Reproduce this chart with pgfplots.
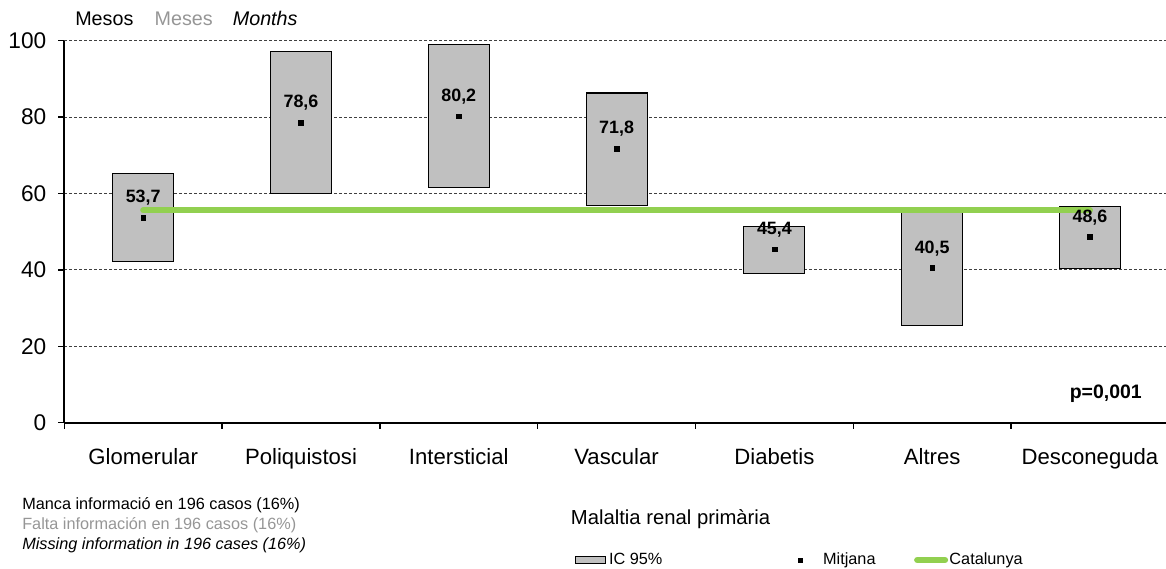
\documentclass[border=0pt]{standalone}
\usepackage{pgfplots}
\usepackage{pgfplotstable}
\pgfplotsset{compat=1.18}
\usepackage{fontspec}
\setmainfont{Liberation Sans}
\definecolor{boxgray}{HTML}{C0C0C0}
\definecolor{catgreen}{HTML}{92D050}
\definecolor{txtgray}{HTML}{969696}
\definecolor{gridc}{HTML}{404040}

\pgfplotstableread{
x low high mean lab
0 42.2 65.3 53.7 53,7
1 60.1 97.2 78.6 78,6
2 61.5 99.0 80.2 80,2
3 56.8 86.3 71.8 71,8
4 39.1 51.4 45.4 45,4
5 25.4 55.4 40.5 40,5
6 40.3 56.7 48.6 48,6
}\datatable

\pgfplotsset{
  commonaxis/.style={
    at={(48.225pt,108.975pt)}, anchor=south west,
    scale only axis, width=826.3pt, height=286.5pt,
    xmin=-0.5, xmax=6.482, ymin=0, ymax=100,
    enlargelimits=false,
  }
}

\begin{document}
\begin{tikzpicture}
\useasboundingbox (0pt,0pt) rectangle (874.5pt,426pt);

\begin{axis}[
  commonaxis,
  ybar stacked, bar width=45.75pt,
  axis x line*=bottom, axis y line*=left,
  axis line style={line width=1.4pt, black},
  tick align=outside,
  major tick length=4.5pt, minor tick length=4.5pt,
  ytick={0,20,...,100},
  ymajorgrids,
  grid style={gridc, line width=0.7pt, dash pattern=on 2.25pt off 1.5pt},
  xtick={0,...,6},
  xticklabels={Glomerular,Poliquistosi,Intersticial,Vascular,Diabetis,Altres,Desconeguda},
  minor xtick={-0.5,0.5,...,5.5},
  every major x tick/.append style={draw=none},
  every minor x tick/.append style={black, line width=1pt},
  every major y tick/.append style={black, line width=1pt},
  /pgf/number format/assume math mode=true,
  yticklabel style={font=\fontsize{17}{19}\selectfont, xshift=-5.5pt},
  xticklabel style={font=\fontsize{16.6}{19}\selectfont, yshift=-11pt},
  xlabel={Malaltia renal primària},
  xlabel style={at={(axis description cs:0.5503,-0.252)}, anchor=center, font=\fontsize{15.2}{18}\selectfont},
]
\addplot[draw=none, fill=none] table[x=x, y=low] {\datatable};
\addplot[fill=boxgray, draw=black, line width=0.8pt] table[x=x, y expr=\thisrow{high}-\thisrow{low}] {\datatable};
\end{axis}

\begin{axis}[
  commonaxis,
  hide axis, clip=false,
  legend columns=3,
  legend style={draw=none, fill=none, inner sep=0pt, outer sep=0pt, column sep=0pt,
    nodes={inner sep=0pt},
    at={(axis description cs:0.4636,-0.3594)}, anchor=west,
    font=\fontsize{12.2}{14}\selectfont},
  legend cell align=left,
]
\addlegendimage{legend image code/.code={\draw[fill=boxgray, draw=black, line width=0.8pt] (0pt,-2.4pt) rectangle (22.5pt,2.4pt);}}
\addlegendentry{\makebox[138.75pt][l]{\hspace{2.25pt}IC 95\%}}
\addlegendimage{legend image code/.code={\path[draw=none, fill=none] (0pt,0pt) rectangle (21pt,0pt); \fill[black] (5.35pt,-1.4pt) rectangle (8.15pt,1.4pt);}}
\addlegendentry{\makebox[71.25pt][l]{\hspace{3pt}Mitjana}}
\addlegendimage{legend image code/.code={\path[draw=none, fill=none] (0pt,0pt) rectangle (25.5pt,0pt); \draw[catgreen, line width=4.5pt, line cap=round] (2.25pt,0pt) -- (23.25pt,0pt);}}
\addlegendentry{\hspace{1pt}Catalunya}

\addplot[forget plot, catgreen, line width=4.5pt, line cap=round, mark=none] coordinates {(0,55.6) (6,55.6)};
\addplot[forget plot, only marks, mark=square*, mark size=1.8pt, black,
  nodes near coords, point meta=explicit symbolic,
  nodes near coords style={font=\bfseries\fontsize{13.4}{15}\selectfont, anchor=base, yshift=11pt, inner sep=0pt, black}]
  table[x=x, y=mean, meta=lab] {\datatable};
\node[anchor=east, inner sep=0pt, font=\bfseries\fontsize{14.6}{16}\selectfont] at (axis cs:6.33,7.5) {p=0,001};
\end{axis}

\node[anchor=base west, inner sep=0pt, font=\fontsize{14.8}{18}\selectfont] at (56.25pt,406.5pt)
  {Mesos\hspace{16pt}\textcolor{txtgray}{Meses}\hspace{15pt}\textit{Months}};
\node[anchor=base west, inner sep=0pt, font=\fontsize{12.2}{14}\selectfont] at (16.5pt,44.25pt) {Manca informació en 196 casos (16\%)};
\node[anchor=base west, inner sep=0pt, font=\fontsize{12.2}{14}\selectfont, text=txtgray] at (16.5pt,29.25pt) {Falta información en 196 casos (16\%)};
\node[anchor=base west, inner sep=0pt, font=\fontsize{12.2}{14}\selectfont] at (16.5pt,14.25pt) {\textit{Missing information in 196 cases (16\%)}};
\end{tikzpicture}
\end{document}
